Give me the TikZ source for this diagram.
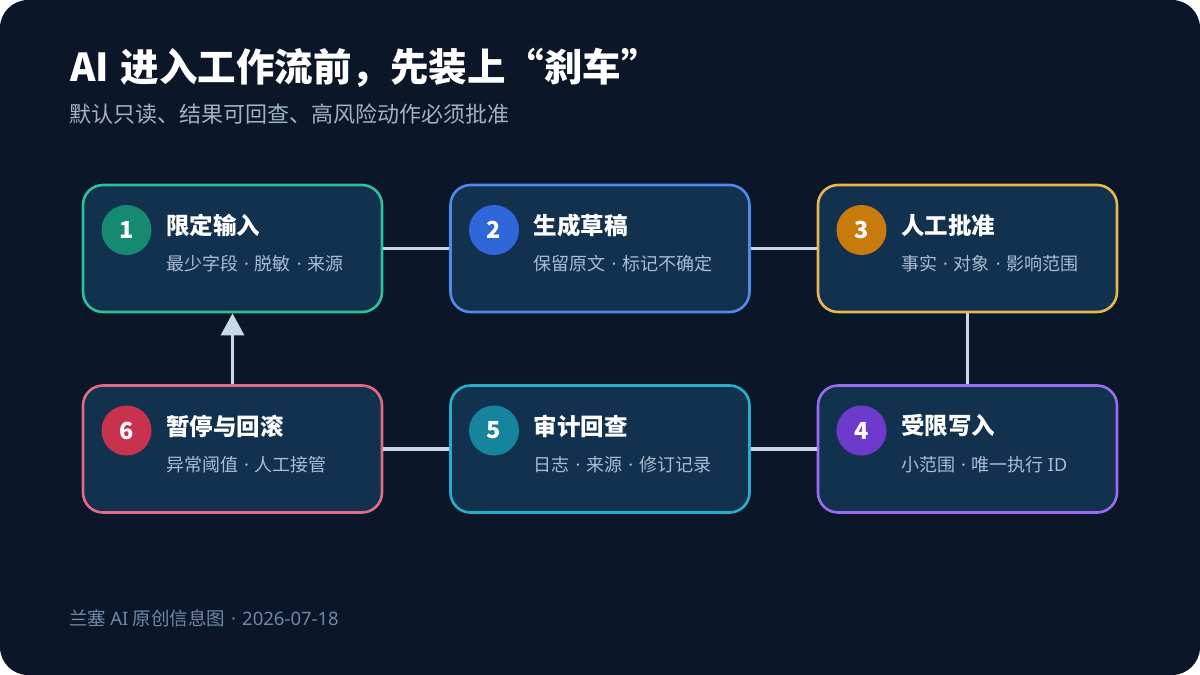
\documentclass[tikz,border=0pt]{standalone}
\usepackage{fontspec}
\setmainfont{Noto Sans CJK SC}
\newfontfamily\latinfont{Noto Sans}
\newcommand{\sepdot}{{\latinfont\hspace{0.33em}·\hspace{0.33em}}}
\usetikzlibrary{arrows.meta}
\definecolor{bgnavy}{HTML}{0B1728}
\definecolor{boxfill}{HTML}{12314F}
\definecolor{linkc}{HTML}{C8D8E8}
\definecolor{subc}{HTML}{9FB3C8}
\definecolor{boxsub}{HTML}{A7BDD3}
\definecolor{footc}{HTML}{6D88A6}
\definecolor{bdA}{HTML}{2FBF9B}\definecolor{ciA}{HTML}{168A70}
\definecolor{bdB}{HTML}{4F8AE8}\definecolor{ciB}{HTML}{2F66D9}
\definecolor{bdC}{HTML}{E7B752}\definecolor{ciC}{HTML}{C97A0C}
\definecolor{bdD}{HTML}{9B6CF0}\definecolor{ciD}{HTML}{6D3ACB}
\definecolor{bdE}{HTML}{26AECB}\definecolor{ciE}{HTML}{16849C}
\definecolor{bdF}{HTML}{E26A82}\definecolor{ciF}{HTML}{C8324F}
\tikzset{
  card/.style={draw=#1, line width=2.6pt, fill=boxfill, rounded corners=20pt,
    minimum width=299pt, minimum height=127pt, inner sep=0pt},
  badge/.style={circle, fill=#1, minimum size=50pt, inner sep=0pt,
    text=white, font=\bfseries\fontsize{23.5}{26}\selectfont},
  cardtitle/.style={anchor=west, inner sep=0pt, text=white, font=\bfseries\fontsize{23.5}{28}\selectfont},
  cardsub/.style={anchor=west, inner sep=0pt, text=boxsub, font=\fontsize{18}{21}\selectfont},
  link/.style={draw=linkc, line width=3.2pt}
}
\begin{document}
\begin{tikzpicture}[x=1pt,y=-1pt]
\useasboundingbox (0,0) rectangle (1200,675);
\fill[white] (0,0) rectangle (1200,675);
\fill[bgnavy, rounded corners=28pt] (0,0) rectangle (1200,675);

\node[anchor=west, inner sep=0pt, text=white, font=\bfseries\fontsize{38.5}{44}\selectfont] (title) at (70,68) {AI\hspace{0.3em}进入工作流前，先装上“刹车”};
\node[anchor=west, inner sep=0pt, text=subc, font=\fontsize{22}{26}\selectfont] (subtitle) at (69,114) {默认只读、结果可回查、高风险动作必须批准};
\node[anchor=west, inner sep=0pt, text=footc, font=\fontsize{18.5}{22}\selectfont] (footer) at (69,618) {兰塞 {\latinfont AI} 原创信息图\sepdot{\latinfont 2026-07-18}};

\coordinate (p1) at (232.5,248.5);
\coordinate (p2) at (600,248.5);
\coordinate (p3) at (967.5,248.5);
\coordinate (p4) at (967.5,449);
\coordinate (p5) at (600,449);
\coordinate (p6) at (232.5,449);

\node[card=bdA] (b1) at (p1) {};
\node[card=bdB] (b2) at (p2) {};
\node[card=bdC] (b3) at (p3) {};
\node[card=bdD] (b4) at (p4) {};
\node[card=bdE] (b5) at (p5) {};
\node[card=bdF] (b6) at (p6) {};

\draw[link] (b1.east) -- (b2.west);
\draw[link] (b2.east) -- (b3.west);
\draw[link] (b3.south) -- (b4.north);
\draw[link] (b4.west) -- (b5.east);
\draw[link] (b5.west) -- (b6.east);
\draw[link, -{Triangle[length=22pt,width=23pt]}] (b6.north) -- (b1.south);

\foreach \n/\cc/\tt/\ss in {1/ciA/限定输入/最少字段\sepdot 脱敏\sepdot 来源,
                            2/ciB/生成草稿/保留原文\sepdot 标记不确定,
                            3/ciC/人工批准/事实\sepdot 对象\sepdot 影响范围,
                            4/ciD/受限写入/小范围\sepdot 唯一执行 {\latinfont ID},
                            5/ciE/审计回查/日志\sepdot 来源\sepdot 修订记录,
                            6/ciF/暂停与回滚/异常阈值\sepdot 人工接管}{
  \node[badge=\cc] (c\n) at ([xshift=-106pt,yshift=18.5pt]b\n.center) {\n};
  \node[cardtitle] (t\n) at ([xshift=-66.5pt,yshift=23pt]b\n.center) {\tt};
  \node[cardsub] (s\n) at ([xshift=-66.5pt,yshift=-15.5pt]b\n.center) {\ss};
}
\end{tikzpicture}
\end{document}
